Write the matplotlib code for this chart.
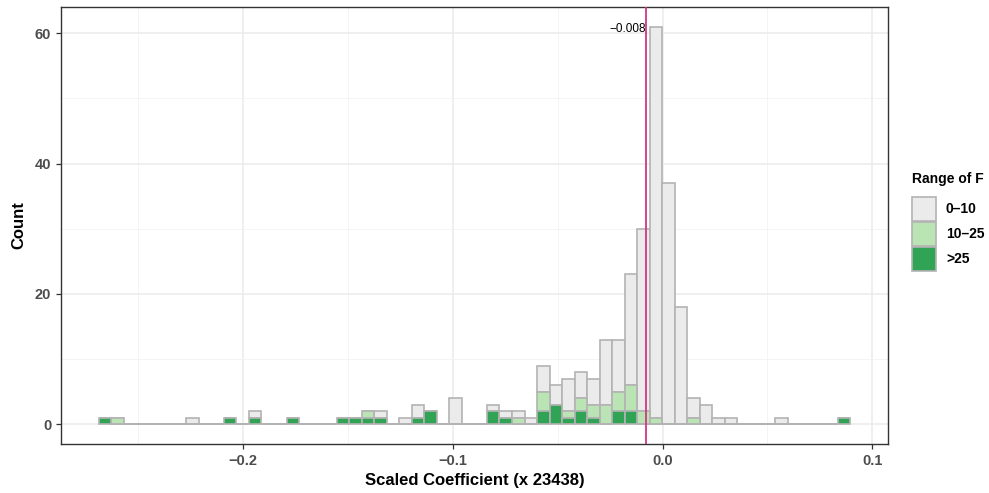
import numpy as np
import matplotlib
matplotlib.use('Agg')
import matplotlib.pyplot as plt
from matplotlib.patches import Patch

plt.rcParams['font.family'] = ['Liberation Sans', 'DejaVu Sans']

# histogram bins (60 equal-width bins)
bin_start = -0.2689
bin_width = 0.005973
n_bins = 60

# counts per bin, split by range of F
count_hi = [1, 0, 0, 0, 0, 0, 0, 0, 0, 0,
            1, 0, 1, 0, 0, 1, 0, 0, 0, 1,
            1, 1, 1, 0, 0, 1, 2, 0, 0, 0,
            0, 2, 1, 0, 0, 2, 3, 1, 2, 1,
            0, 2, 2, 0, 0, 0, 0, 0, 0, 0,
            0, 0, 0, 0, 0, 0, 0, 0, 0, 1]
count_mid = [0, 1, 0, 0, 0, 0, 0, 0, 0, 0,
             0, 0, 0, 0, 0, 0, 0, 0, 0, 0,
             0, 1, 0, 0, 0, 0, 0, 0, 0, 0,
             0, 0, 0, 1, 0, 3, 0, 1, 2, 2,
             3, 3, 4, 2, 1, 0, 0, 1, 0, 0,
             0, 0, 0, 0, 0, 0, 0, 0, 0, 0]
count_lo = [0, 0, 0, 0, 0, 0, 0, 1, 0, 0,
            0, 0, 1, 0, 0, 0, 0, 0, 0, 0,
            0, 0, 1, 0, 1, 2, 0, 0, 4, 0,
            0, 1, 1, 1, 1, 4, 3, 5, 4, 4,
            10, 8, 17, 28, 60, 37, 18, 3, 3, 1,
            1, 0, 0, 0, 1, 0, 0, 0, 0, 0]

range_labels = ['0\u201310', '10\u201325', '>25']
range_colors = ['#EBEBEB', '#BAE4B3', '#31A354']

vline_x = -0.008
vline_label = '\u22120.008'

edge = '#B3B3B3'
lefts = bin_start + bin_width * np.arange(n_bins)
hi = np.array(count_hi)
mid = np.array(count_mid)
lo = np.array(count_lo)

fig = plt.figure(figsize=(9.89, 4.93), dpi=100)
ax = fig.add_axes([0.0617, 0.099, 0.836, 0.887])

# stacked bars: >25 at the bottom, then 10-25, then 0-10
kw = dict(width=bin_width, align='edge', edgecolor=edge, linewidth=1.2, zorder=3)
ax.bar(lefts, lo, bottom=hi + mid, color=range_colors[0], **kw)
ax.bar(lefts, mid, bottom=hi, color=range_colors[1], **kw)
ax.bar(lefts, hi, color=range_colors[2], **kw)

total = hi + mid + lo
x0, x1 = lefts[0], lefts[-1] + bin_width
xpad = 0.05 * (x1 - x0)
ax.set_xlim(x0 - xpad, x1 + xpad)
ax.set_ylim(-0.05 * total.max(), total.max() * 1.05)

ax.axvline(vline_x, color='#D33682', linewidth=1.3, zorder=4)
ax.text(vline_x, total.max() - 0.4, vline_label, ha='right', va='center',
        fontsize=8.5, color='black', zorder=5)

ax.set_xticks([-0.2, -0.1, 0.0, 0.1])
ax.set_xticklabels(['\u22120.2', '\u22120.1', '0.0', '0.1'])
ax.set_xticks([-0.25, -0.15, -0.05, 0.05], minor=True)
ax.set_yticks([0, 20, 40, 60])
ax.set_yticks([10, 30, 50], minor=True)
ax.grid(which='major', color='#EBEBEB', linewidth=1.1, zorder=0)
ax.grid(which='minor', color='#F2F2F2', linewidth=0.6, zorder=0)
ax.tick_params(which='major', length=3.5, width=0.9, color='#333333',
               labelsize=10.5, labelcolor='#4D4D4D')
ax.tick_params(which='minor', length=0)
for lab in ax.get_xticklabels() + ax.get_yticklabels():
    lab.set_fontweight('bold')
for sp in ax.spines.values():
    sp.set_color('#333333')
    sp.set_linewidth(1.0)

ax.set_xlabel('Scaled Coefficient (x 23438)', fontsize=12, fontweight='bold', labelpad=4)
ax.set_ylabel('Count', fontsize=12, fontweight='bold', labelpad=6)

handles = [Patch(facecolor=c, edgecolor=edge, linewidth=1.2) for c in range_colors]
leg = fig.legend(handles, range_labels, title='Range of F', loc='upper left',
                 bbox_to_anchor=(0.922, 0.652), frameon=False,
                 prop={'weight': 'bold', 'size': 10},
                 title_fontproperties={'weight': 'bold', 'size': 10},
                 handlelength=1.75, handleheight=2.28, labelspacing=0.07,
                 handletextpad=0.7, borderaxespad=0, borderpad=0)
leg._legend_box.align = 'left'
leg._legend_box.sep = 8

fig.savefig('out.png', dpi=100)
